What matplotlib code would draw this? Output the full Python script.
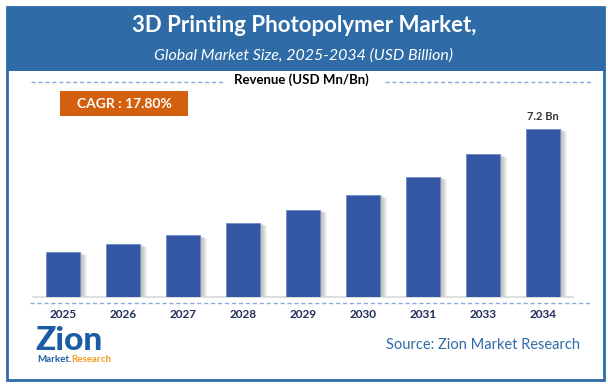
import matplotlib
matplotlib.use("Agg")
import matplotlib.pyplot as plt
from matplotlib.patches import Rectangle
from matplotlib.lines import Line2D

plt.rcParams["font.family"] = ["Lato", "DejaVu Sans"]

# chart data
years = ["2025", "2026", "2027", "2028", "2029", "2030", "2031", "2033", "2034"]
revenue = [1.91, 2.25, 2.64, 3.16, 3.72, 4.37, 5.15, 6.11, 7.2]
last_label = "7.2 Bn"

title = "3D Printing Photopolymer Market,"
subtitle = "Global Market Size, 2025-2034 (USD Billion)"
axis_label = "Revenue (USD Mn/Bn)"
cagr_text = "CAGR : 17.80%"
source_text = "Source: Zion Market Research"

W, H = 608, 387
BLUE_HEAD = "#2E6BA7"
BAR = "#3357A4"
ORANGE = "#D2600F"


def fx(x):
    return x / W


def fy(y):
    return 1 - y / H


fig = plt.figure(figsize=(W / 100, H / 100), dpi=100)

# frame and header band
fig.add_artist(Rectangle((fx(7), fy(380)), fx(597), 373 / H, transform=fig.transFigure,
                         fill=False, edgecolor=BLUE_HEAD, linewidth=2))
fig.add_artist(Rectangle((fx(7), fy(71)), fx(597), 64 / H, transform=fig.transFigure,
                         facecolor=BLUE_HEAD, edgecolor="none"))
fig.text(fx(304), fy(26), title, color="white", fontsize=16, fontweight="bold",
         ha="center", va="center")
fig.text(fx(303), fy(56), subtitle, color="white", fontsize=11.5, style="italic",
         ha="center", va="center")

# revenue label with dashed rules
fig.text(fx(301), fy(80), axis_label, color="black", fontsize=9.5, fontweight="bold",
         ha="center", va="center")
dash_kw = dict(color="#8EA9DB", linewidth=1, linestyle=(0, (3, 2)), transform=fig.transFigure)
fig.add_artist(Line2D([fx(31), fx(225)], [fy(82), fy(82)], **dash_kw))
fig.add_artist(Line2D([fx(385), fx(592)], [fy(82), fy(82)], **dash_kw))
fig.add_artist(Line2D([fx(30), fx(592)], [fy(303), fy(303)], **dash_kw))

# CAGR box
fig.add_artist(Rectangle((fx(60), fy(116)), fx(128), 25 / H, transform=fig.transFigure,
                         facecolor=ORANGE, edgecolor="none"))
fig.text(fx(124), fy(103.5), cagr_text, color="white", fontsize=10, fontweight="bold",
         ha="center", va="center")

# bar axes
ax = fig.add_axes([fx(33), fy(296.7), fx(540), (296.7 - 120) / H])
px = 1 / 60  # one pixel in data units along x
x = list(range(len(years)))
# soft shadow to the right of each bar
for k in range(1, 7):
    ax.bar([i + (k + 0.5) * px for i in x], [v - 0.02 * k for v in revenue], width=0.567,
           color="#555555", alpha=0.07, linewidth=0, zorder=1)
ax.bar(x, revenue, width=0.567, color=BAR, edgecolor="#6F8CC8", linewidth=0.6, zorder=3)
ax.text(x[-1], revenue[-1] + 0.3, last_label, ha="center", va="bottom",
        fontsize=8, fontweight="bold", color="#333333")
ax.set_xlim(-0.5, len(years) - 0.5)
ax.set_ylim(0, 176.7 * 7.2 / 167.7)
for s in ["top", "right", "left"]:
    ax.spines[s].set_visible(False)
ax.spines["bottom"].set_color("#D9D9D9")
ax.spines["bottom"].set_linewidth(1.2)
ax.set_yticks([])
ax.set_xticks(x)
ax.set_xticklabels(years, fontsize=8.5, fontweight="bold", color="#1F2D5A")
ax.tick_params(axis="x", length=0, pad=9)
ax.patch.set_alpha(0)

# logo
fig.text(fx(35), fy(341), "Zion", color="#1B5CA3", fontsize=24, fontweight="black",
         ha="left", va="center")
mk = fig.text(fx(37), fy(359), "Market.", color="#1B5CA3", fontsize=7, fontweight="bold",
              ha="left", va="center")
fig.canvas.draw()
bb = mk.get_window_extent().transformed(fig.transFigure.inverted())
fig.text(bb.x1, fy(359), "Research", color="#F29A1F", fontsize=7, fontweight="bold",
         ha="left", va="center")

fig.text(fx(580), fy(345), source_text, color="#2E6BA7", fontsize=10.5,
         ha="right", va="center")

fig.savefig("out.png", dpi=100)
